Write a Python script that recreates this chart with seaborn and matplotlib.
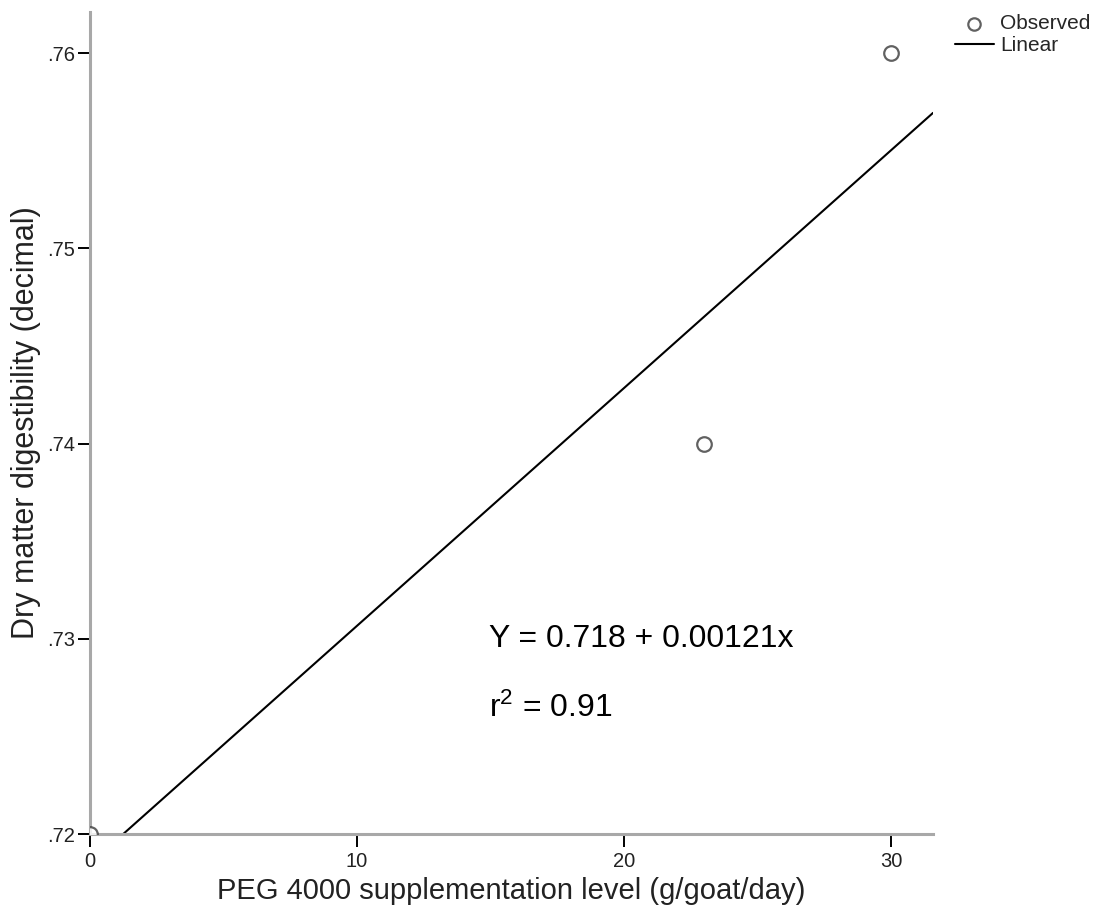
import matplotlib
matplotlib.use("Agg")
import matplotlib.pyplot as plt
import seaborn as sns
import pandas as pd

# PEG 4000 supplementation vs dry matter digestibility
peg_level = [0, 23, 30]
dm_digestibility = [0.72, 0.74, 0.76]
x_ticks = [0, 10, 20, 30]
y_ticks = [0.72, 0.73, 0.74, 0.75, 0.76]
y_tick_labels = [".72", ".73", ".74", ".75", ".76"]
equation_text = "Y = 0.718 + 0.00121x"
r2_text = "r$^{2}$ = 0.91"

df = pd.DataFrame({"peg": peg_level, "dmd": dm_digestibility})

sns.set_theme(style="white")
plt.rcParams["font.family"] = ["Liberation Sans", "DejaVu Sans"]
plt.rcParams["mathtext.fontset"] = "custom"
plt.rcParams["mathtext.rm"] = "Liberation Sans"
plt.rcParams["mathtext.it"] = "Liberation Sans"

fig = plt.figure(figsize=(11, 9.22), dpi=100)
ax = fig.add_axes([90 / 1100, 1 - 834 / 922, 843 / 1100, 822 / 922])

ax.set_xlim(0, 31.57)
ax.set_ylim(0.72, 0.7621)

sns.regplot(
    data=df, x="peg", y="dmd", ax=ax, ci=None, truncate=False,
    scatter_kws=dict(s=110, facecolors="white", edgecolors="#3a3a3a",
                     linewidths=1.6, zorder=3),
    line_kws=dict(color="black", linewidth=1.5),
)
ax.set_xlim(0, 31.57)
ax.set_ylim(0.72, 0.7621)

ax.set_xticks(x_ticks)
ax.set_xticklabels([str(t) for t in x_ticks])
ax.set_yticks(y_ticks)
ax.set_yticklabels(y_tick_labels)
ax.tick_params(axis="both", direction="out", length=9, width=1.4, color="black",
               labelsize=14.5, labelcolor="#222222", bottom=True, left=True)
ax.tick_params(axis="y", pad=2)
ax.tick_params(axis="x", pad=4)

for side in ["top", "right"]:
    ax.spines[side].set_visible(False)
for side in ["left", "bottom"]:
    ax.spines[side].set_color("#a8a8a8")
    ax.spines[side].set_linewidth(2.2)

ax.set_xlabel("PEG 4000 supplementation level (g/goat/day)", fontsize=21, color="#222222")
ax.set_ylabel("Dry matter digestibility (decimal)", fontsize=22, color="#222222")
ax.xaxis.set_label_coords(0.5, -0.052)
ax.yaxis.set_label_coords(-0.058, 0.5)

ax.text(14.95, 0.7296, equation_text, fontsize=23, color="black", va="baseline", ha="left")
ax.text(14.95, 0.7260, r2_text, fontsize=23, color="black", va="baseline", ha="left")

# legend handles taken from the drawn artists
scatter_artist = ax.collections[0]
line_artist = ax.lines[0]
ax.legend([scatter_artist, line_artist], ["Observed", "Linear"], loc="upper left",
          bbox_to_anchor=(955 / 1100, 1 - 14 / 922), bbox_transform=fig.transFigure,
          frameon=False, fontsize=15, borderpad=0, borderaxespad=0,
          handlelength=1.85, handletextpad=0.3, labelspacing=0.15,
          markerscale=0.85, scatterpoints=1)

fig.savefig("out.png", dpi=100, facecolor="white")
